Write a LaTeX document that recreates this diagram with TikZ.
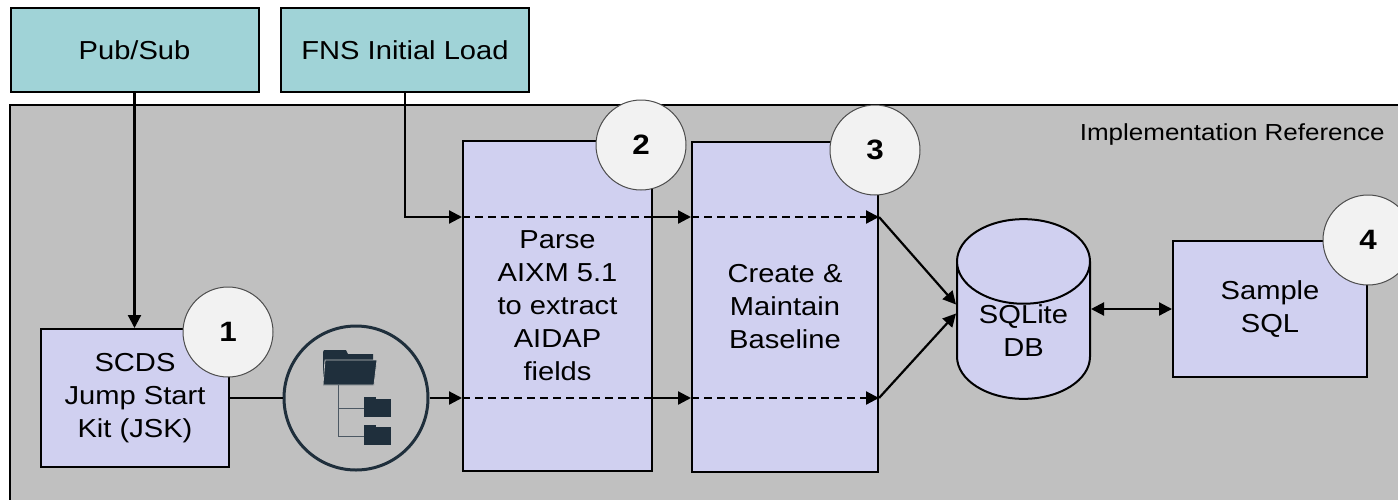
\documentclass[tikz,border=0pt]{standalone}
\usepackage{fontspec}
\setmainfont{Liberation Sans}[FakeStretch=1.12]
\usepackage{tikz}
\usetikzlibrary{shapes.geometric, positioning, arrows.meta}

\definecolor{feedteal}{HTML}{A0D3D7}
\definecolor{stageblue}{HTML}{D0D0F0}
\definecolor{panelgray}{HTML}{C0C0C0}
\definecolor{badgegray}{HTML}{F2F2F2}
\definecolor{iconnavy}{HTML}{1F2F3C}

\begin{document}
\begin{tikzpicture}[x=0.5pt, y=-0.5pt,
  every node/.style = {align=center, inner sep=0pt,
    font=\fontsize{13}{16.5}\selectfont},
  feed/.style = {rectangle, draw, line width=1pt, fill=feedteal,
    minimum width=124pt, minimum height=42pt},
  stage/.style = {rectangle, draw, line width=1pt, fill=stageblue},
  badge/.style = {circle, draw=black!70, line width=0.5pt, fill=badgegray,
    minimum size=45pt, font=\fontsize{14}{15}\selectfont\bfseries},
  flow/.style = {line width=1.1pt, -{Triangle[length=6.5pt, width=6.5pt]}},
  biflow/.style = {line width=1.1pt,
    {Triangle[length=6.5pt, width=6.5pt]}-{Triangle[length=6.5pt, width=6.5pt]}},
  dashflow/.style = {line width=1.1pt, dash pattern=on 4pt off 2.5pt}]
  \useasboundingbox (0,0) rectangle (1398,499);
  \clip (0,0) rectangle (1398,499);

  % implementation panel
  \draw[line width=1pt, fill=panelgray] (10,105) rectangle (1420,530);
  \node[anchor=base east, font=\fontsize{11.6}{13}\selectfont] (implref)
    at (1385,140) {Implementation Reference};

  % sources
  \node[feed] (pubsub) at (134.5,50) {Pub/Sub};
  \node[feed] (fns) at (405,50) {FNS Initial Load};

  % steps
  \node[stage, minimum width=94pt, minimum height=69pt] (jsk)
    at (135,398) {SCDS\\ Jump Start\\ Kit (JSK)};
  \node[circle, draw=iconnavy, line width=1.5pt, minimum size=72pt] (folder)
    at (356,398) {};
  \node[stage, minimum width=94.5pt, minimum height=165pt] (parse)
    at (557.5,306) {Parse\\ AIXM 5.1\\ to extract\\ AIDAP\\ fields};
  \node[stage, minimum width=93pt, minimum height=165pt] (create)
    at (785,307) {Create \&\\ Maintain\\ Baseline};
  \node[cylinder, shape border rotate=90, draw, line width=1pt, fill=stageblue,
    aspect=0.95, minimum height=88pt, minimum width=66.5pt,
    anchor=shape center] (sqlite)
    at (1023.5,309) {SQLite\\ DB};
  \node[stage, minimum width=97pt, minimum height=68pt] (sample)
    at (1270,309) {Sample\\ SQL};

  % folder icon
  \begin{scope}[shift={(folder.center)}]
    \fill[iconnavy] (-33,-13) -- (-33,-46) -- (-32,-48) -- (-10,-48)
      -- (-8,-44) -- (17,-44) -- (17,-13) -- cycle;
    \fill[iconnavy, draw=panelgray, line width=0.4pt] (-33,-13) -- (-31,-38)
      -- (21,-38) -- (18,-13) -- cycle;
    \draw[iconnavy!80, line width=0.5pt] (-18,-13) -- (-18,38) -- (8,38)
      (-18,10) -- (8,10);
    \foreach \dy in {0,28} {
      \fill[iconnavy] (8,\dy+1) rectangle (35,\dy+19);
      \fill[iconnavy] (8,\dy-1) rectangle (20,\dy+2);
    }
  \end{scope}

  % connectors
  \coordinate (rowA) at (0,217);
  \draw[flow] (pubsub.south) -- (pubsub.south |- jsk.north);
  \draw[line width=1.1pt] (jsk.east) -- (folder.west);
  \draw[flow] (folder.east) -- (parse.west |- folder.east);
  \draw[flow] (fns.south) |- (parse.west |- rowA);
  \foreach \row/\tip in {rowA/2.25pt, folder/-2.25pt} {
    \draw[dashflow] (parse.west |- \row) -- (parse.east |- \row);
    \draw[flow] (parse.east |- \row) -- (create.west |- \row);
    \draw[flow, dashflow] (create.west |- \row) -- (create.east |- \row);
    \draw[flow] (create.east |- \row)
      -- ([yshift=\tip]sqlite.shape center -| sqlite.west);
  }
  \draw[biflow] (sqlite.shape center -| sqlite.east) -- (sample.west);

  % step numbers
  \node[badge] (one) at (228,332) {1};
  \node[badge] (two) at (641,145) {2};
  \node[badge] (three) at (875,150) {3};
  \node[badge] (four) at (1368,240) {4};
\end{tikzpicture}
\end{document}
